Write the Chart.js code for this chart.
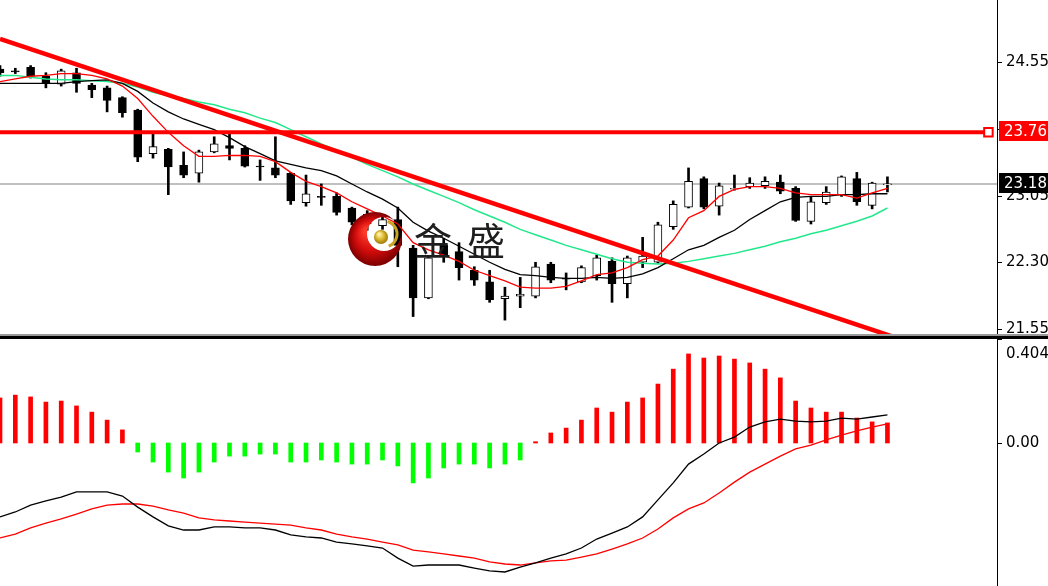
<!DOCTYPE html>
<html>
<head>
<meta charset="utf-8">
<script src="https://cdn.jsdelivr.net/npm/chart.js@4.4.0/dist/chart.umd.min.js"></script>
<style>
  html, body { margin: 0; padding: 0; background: #fff; overflow: hidden; }
  #wrap { position: relative; width: 1048px; height: 586px; }
  #priceCanvas { position: absolute; left: 0; top: 0; }
  #sep { position: absolute; left: 0; top: 334px; width: 1048px; height: 5px; box-sizing: border-box; border-top: 2px solid #9a9a9a; background: #000; }
  #macdCanvas { position: absolute; left: 0; top: 339px; }
</style>
</head>
<body>
<div id="wrap">
  <canvas id="priceCanvas" width="1048" height="334"></canvas>
  <div id="sep"></div>
  <canvas id="macdCanvas" width="1048" height="247"></canvas>
</div>
<script>
// Candles (O/H/L/C)
const opens = [24.47,24.45,24.49,24.39,24.30,24.43,24.29,24.26,24.15,24.01, 23.52,23.57,23.39,23.30,23.54,23.61,23.58,23.38,23.36,23.30, 22.97,23.04,23.04,22.91,22.84,22.71,22.78,22.46,21.90,22.49, 22.42,22.21,22.08,21.89,21.92,21.92,22.28,22.12,22.08,22.15, 22.31,22.06,22.30,22.30,22.70,22.92,23.24,22.93,23.12,23.15, 23.16,23.20,23.13,22.76,22.97,23.06,23.24,22.94,23.17];
const highs = [24.51,24.48,24.51,24.43,24.47,24.48,24.31,24.28,24.16,24.02, 23.75,23.58,23.54,23.56,23.71,23.75,23.61,23.45,23.71,23.31, 23.28,23.18,23.08,22.92,22.88,22.82,22.92,22.49,22.37,22.57, 22.52,22.25,22.21,22.02,22.13,22.30,22.30,22.18,22.26,22.38, 22.35,22.37,22.58,22.75,22.99,23.36,23.26,23.19,23.28,23.25, 23.26,23.28,23.15,23.03,23.15,23.27,23.31,23.20,23.26];
const lows = [24.39,24.42,24.37,24.26,24.28,24.21,24.15,23.99,23.93,23.43, 23.47,23.06,23.25,23.20,23.53,23.45,23.37,23.22,23.25,22.95, 22.93,22.94,22.83,22.72,22.66,22.67,22.25,21.69,21.89,22.30, 22.10,22.04,21.85,21.65,21.79,21.90,22.07,21.99,22.07,22.10, 21.85,21.90,22.24,22.29,22.67,22.91,22.90,22.83,23.11,23.13, 23.13,23.07,22.76,22.73,22.95,23.04,22.94,22.90,23.09];
const closes = [24.43,24.44,24.39,24.31,24.45,24.31,24.24,24.12,23.98,23.48, 23.60,23.37,23.28,23.54,23.63,23.58,23.38,23.37,23.28,22.99, 23.07,23.03,22.86,22.75,22.73,22.78,22.49,21.90,22.35,22.38, 22.24,22.10,21.88,21.92,21.94,22.25,22.10,22.11,22.24,22.35, 22.06,22.35,22.37,22.72,22.95,23.21,22.92,23.16,23.13,23.19, 23.21,23.10,22.77,22.98,23.09,23.26,22.98,23.19,23.18];

// Moving averages
const maFast = [24.33,24.36,24.39,24.40,24.42,24.42,24.40,24.36,24.28,24.14, 23.94,23.76,23.61,23.49,23.49,23.50,23.50,23.49,23.43,23.31, 23.21,23.15,23.08,22.98,22.90,22.82,22.73,22.52,22.44,22.38, 22.31,22.21,22.15,22.09,22.02,22.01,22.01,22.03,22.09,22.16, 22.18,22.24,22.33,22.37,22.55,22.80,22.88,23.04,23.12,23.15, 23.15,23.13,23.08,23.06,23.06,23.06,23.02,23.08,23.13];
const maMid = [24.31,24.31,24.31,24.31,24.31,24.33,24.34,24.35,24.31,24.22, 24.09,23.99,23.91,23.85,23.79,23.70,23.60,23.52,23.44,23.40, 23.36,23.33,23.27,23.18,23.09,23.01,22.91,22.75,22.65,22.57, 22.48,22.39,22.30,22.22,22.16,22.15,22.13,22.12,22.12,22.13, 22.12,22.13,22.17,22.24,22.34,22.44,22.49,22.58,22.66,22.78, 22.88,22.98,23.03,23.04,23.04,23.06,23.06,23.07,23.07];
const maSlow = [24.40,24.40,24.38,24.36,24.35,24.35,24.34,24.33,24.31,24.27, 24.21,24.17,24.14,24.10,24.07,24.02,23.98,23.92,23.87,23.79, 23.71,23.63,23.56,23.48,23.40,23.33,23.26,23.18,23.11,23.04, 22.97,22.89,22.82,22.75,22.67,22.61,22.55,22.49,22.44,22.39, 22.34,22.30,22.29,22.28,22.29,22.31,22.34,22.37,22.40,22.44, 22.48,22.53,22.57,22.62,22.66,22.71,22.76,22.82,22.91];

// MACD pane
const macdHist = [0.175,0.186,0.179,0.159,0.163,0.144,0.120,0.089,0.051,-0.035, -0.074,-0.113,-0.136,-0.113,-0.074,-0.051,-0.051,-0.043,-0.043,-0.074, -0.074,-0.066,-0.074,-0.082,-0.082,-0.066,-0.089,-0.155,-0.136,-0.097, -0.082,-0.082,-0.097,-0.082,-0.066,0.005,0.039,0.058,0.089,0.136, 0.120,0.159,0.175,0.229,0.287,0.346,0.330,0.338,0.326,0.311, 0.287,0.253,0.163,0.136,0.120,0.120,0.097,0.082,0.078];
const macdMain = [-0.287,-0.268,-0.241,-0.225,-0.210,-0.190,-0.190,-0.190,-0.206,-0.249, -0.287,-0.322,-0.338,-0.338,-0.326,-0.326,-0.330,-0.330,-0.338,-0.357, -0.365,-0.369,-0.385,-0.392,-0.400,-0.408,-0.447,-0.478,-0.474,-0.474, -0.474,-0.486,-0.497,-0.501,-0.482,-0.466,-0.447,-0.431,-0.408,-0.373, -0.350,-0.326,-0.287,-0.221,-0.155,-0.082,-0.043,0.000,0.023,0.062, 0.082,0.093,0.085,0.082,0.085,0.097,0.093,0.101,0.109];
const macdSignal = [-0.369,-0.354,-0.330,-0.311,-0.295,-0.276,-0.256,-0.241,-0.237,-0.237, -0.245,-0.260,-0.272,-0.291,-0.299,-0.303,-0.307,-0.311,-0.315,-0.319, -0.330,-0.338,-0.354,-0.365,-0.373,-0.385,-0.396,-0.416,-0.423,-0.431, -0.439,-0.447,-0.462,-0.470,-0.474,-0.466,-0.458,-0.455,-0.443,-0.431, -0.412,-0.392,-0.369,-0.334,-0.291,-0.256,-0.233,-0.194,-0.152,-0.113, -0.082,-0.051,-0.023,-0.008,0.012,0.031,0.047,0.062,0.074];

// Drawn objects and axes
const trendIdx = [0, 60];
const trendPrice = [24.81, 21.37];
const levelPrice = 23.76;
const levelEndIdx = 64.6;
const lastPrice = 23.18;
const priceTicks = [21.55, 22.30, 23.05, 23.80, 24.55];
const macdTicks = [0.404, 0.00];
const macdTickLabels = ['0.404', '0.00'];

const X_MAX = 65.16;
const idx = opens.map((_, i) => i);

// Right axis: line, tick marks, labels and price boxes
const rightAxis = {
  id: 'rightAxis',
  afterDraw(chart, args, opts) {
    const ctx = chart.ctx;
    const area = chart.chartArea;
    const ys = chart.scales.y;
    ctx.save();
    ctx.strokeStyle = '#000';
    ctx.lineWidth = 1;
    ctx.beginPath();
    ctx.moveTo(area.right + 0.5, 0);
    ctx.lineTo(area.right + 0.5, chart.height);
    ctx.stroke();

    ctx.font = '15px "DejaVu Sans"';
    ctx.fillStyle = '#000';
    ctx.textBaseline = 'middle';
    opts.ticks.forEach((v, k) => {
      const py = Math.round(ys.getPixelForValue(v)) + 0.5;
      ctx.beginPath();
      ctx.moveTo(area.right + 1, py);
      ctx.lineTo(area.right + 5, py);
      ctx.stroke();
      let ty = py;
      if (opts.clampTop && ty < 10) ty = 15;
      ctx.fillText(opts.labels ? opts.labels[k] : v.toFixed(2), area.right + 9, ty);
    });

    (opts.boxes || []).forEach(b => {
      const py = Math.round(ys.getPixelForValue(b.value));
      ctx.fillStyle = b.color;
      ctx.fillRect(area.right + 2, py - 11, 60, 20);
      ctx.fillStyle = '#fff';
      ctx.fillText(b.value.toFixed(2), area.right + 7, py + 0.5);
    });
    ctx.restore();
  }
};

// Watermark logo and text
const watermark = {
  id: 'watermark',
  afterDatasetsDraw(chart) {
    const ctx = chart.ctx;
    ctx.save();
    const cx = 375, cy = 239, r = 27;
    const g = ctx.createRadialGradient(cx - 8, cy - 8, 3, cx, cy, r);
    g.addColorStop(0, '#ff3b2b');
    g.addColorStop(0.55, '#d10b0b');
    g.addColorStop(1, '#7c0000');
    ctx.beginPath();
    ctx.arc(cx, cy, r, 0, Math.PI * 2);
    ctx.moveTo(384 + 17, 234);
    ctx.arc(384, 234, 17, 0, Math.PI * 2, true);
    ctx.fillStyle = g;
    ctx.fill('evenodd');

    // gold swoosh
    ctx.beginPath();
    ctx.arc(384, 234, 13, -1.3, 1.2);
    ctx.strokeStyle = '#c9a424';
    ctx.lineWidth = 3;
    ctx.stroke();

    // gold ball
    const gb = ctx.createRadialGradient(379, 234, 1, 381, 237, 8);
    gb.addColorStop(0, '#fff2a0');
    gb.addColorStop(0.5, '#d6b128');
    gb.addColorStop(1, '#8c6b05');
    ctx.beginPath();
    ctx.arc(381, 237, 7, 0, Math.PI * 2);
    ctx.fillStyle = gb;
    ctx.fill();

    ctx.font = '38px "Noto Sans CJK SC"';
    ctx.fillStyle = '#1e1e1e';
    ctx.textBaseline = 'middle';
    ctx.fillText('金', 414, 241);
    ctx.fillText('盛', 467, 241);
    ctx.restore();
  }
};

function pts(arr) {
  return arr.map((v, i) => ({ x: idx[i], y: v }));
}

// Price chart
new Chart(document.getElementById('priceCanvas'), {
  type: 'bar',
  data: {
    datasets: [
      {
        type: 'line', label: 'trend', order: 1, clip: 0,
        data: trendIdx.map((x, i) => ({ x: x, y: trendPrice[i] })),
        borderColor: '#ff0000', borderWidth: 4.5, pointRadius: 0
      },
      {
        type: 'line', label: 'level', order: 2, clip: 0,
        data: [{ x: 0, y: levelPrice }, { x: levelEndIdx, y: levelPrice }],
        borderColor: '#ff0000', borderWidth: 4,
        pointRadius: [0, 6], pointStyle: 'rect',
        pointBackgroundColor: '#fff', pointBorderColor: '#ff0000', pointBorderWidth: 2
      },
      {
        type: 'line', label: 'ma fast', order: 3, clip: 0,
        data: pts(maFast), borderColor: '#ff0000', borderWidth: 1.3, pointRadius: 0
      },
      {
        type: 'line', label: 'ma mid', order: 4, clip: 0,
        data: pts(maMid), borderColor: '#000000', borderWidth: 1.3, pointRadius: 0
      },
      {
        type: 'line', label: 'ma slow', order: 5, clip: 0,
        data: pts(maSlow), borderColor: '#22e88c', borderWidth: 1.5, pointRadius: 0
      },
      {
        label: 'body', order: 6, clip: 0, grouped: false,
        data: idx.map(i => ({ x: i, y: [opens[i], closes[i]] })),
        backgroundColor: idx.map(i => closes[i] >= opens[i] ? '#ffffff' : '#000000'),
        borderColor: '#000', borderWidth: 1, borderSkipped: false, barThickness: 8
      },
      {
        label: 'wick', order: 7, clip: 0, grouped: false,
        data: idx.map(i => ({ x: i, y: [lows[i], highs[i]] })),
        backgroundColor: '#000', borderWidth: 0, barThickness: 2
      },
      {
        type: 'line', label: 'last', order: 8, clip: 0,
        data: [{ x: 0, y: lastPrice }, { x: X_MAX, y: lastPrice }],
        borderColor: '#c0c0c0', borderWidth: 2, pointRadius: 0
      }
    ]
  },
  options: {
    responsive: false,
    animation: false,
    events: [],
    layout: { autoPadding: false, padding: { left: 0, right: 51, top: 0, bottom: 0 } },
    plugins: {
      legend: { display: false },
      tooltip: { enabled: false },
      rightAxis: {
        ticks: priceTicks,
        boxes: [
          { value: levelPrice, color: '#ff0000' },
          { value: lastPrice, color: '#000000' }
        ]
      }
    },
    scales: {
      x: { type: 'linear', min: 0, max: X_MAX, offset: false, display: false },
      y: { type: 'linear', min: 21.494, max: 25.247, display: false }
    }
  },
  plugins: [watermark, rightAxis]
});

// MACD chart
new Chart(document.getElementById('macdCanvas'), {
  type: 'bar',
  data: {
    datasets: [
      {
        type: 'line', label: 'main', order: 1, clip: 0,
        data: pts(macdMain), borderColor: '#000', borderWidth: 1.3, pointRadius: 0
      },
      {
        type: 'line', label: 'signal', order: 2, clip: 0,
        data: pts(macdSignal), borderColor: '#ff0000', borderWidth: 1.3, pointRadius: 0
      },
      {
        label: 'hist', order: 3, clip: 0, grouped: false,
        data: pts(macdHist),
        backgroundColor: macdHist.map(v => v >= 0 ? '#ff0000' : '#00ff00'),
        borderWidth: 0, barThickness: 4
      }
    ]
  },
  options: {
    responsive: false,
    animation: false,
    events: [],
    layout: { autoPadding: false, padding: { left: 0, right: 51, top: 0, bottom: 0 } },
    plugins: {
      legend: { display: false },
      tooltip: { enabled: false },
      rightAxis: { ticks: macdTicks, labels: macdTickLabels, clampTop: true }
    },
    scales: {
      x: { type: 'linear', min: 0, max: X_MAX, offset: false, display: false },
      y: { type: 'linear', min: -0.5555, max: 0.404, display: false }
    }
  },
  plugins: [rightAxis]
});
</script>
</body>
</html>
